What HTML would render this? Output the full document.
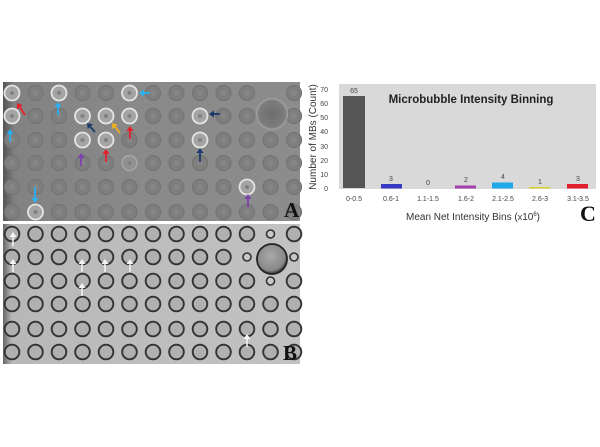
<!DOCTYPE html>
<html><head><meta charset="utf-8"><style>
html,body{margin:0;padding:0;background:#fff;width:600px;height:447px;overflow:hidden}
svg{display:block}
text{font-family:"Liberation Sans",sans-serif}
</style></head><body>
<svg id="s" width="600" height="447" viewBox="0 0 600 447" xmlns="http://www.w3.org/2000/svg">
<defs>
<linearGradient id="ga" x1="0" x2="1" y1="0" y2="0">
<stop offset="0" stop-color="#555"/><stop offset="0.04" stop-color="#828282"/><stop offset="0.5" stop-color="#8a8a8a"/><stop offset="1" stop-color="#8c8c8c"/></linearGradient>
<linearGradient id="gb" x1="0" x2="1" y1="0" y2="0">
<stop offset="0" stop-color="#666"/><stop offset="0.03" stop-color="#b8b8b8"/><stop offset="1" stop-color="#c2c2c2"/></linearGradient>
<radialGradient id="big" cx="0.5" cy="0.5" r="0.5"><stop offset="0" stop-color="#6e6e6e"/><stop offset="0.85" stop-color="#7c7c7c"/><stop offset="1" stop-color="#9a9a9a"/></radialGradient>
<radialGradient id="bigb" cx="0.45" cy="0.4" r="0.6"><stop offset="0" stop-color="#aaa"/><stop offset="0.8" stop-color="#888"/><stop offset="1" stop-color="#333"/></radialGradient>
</defs>
<rect x="3" y="82" width="297" height="139" fill="url(#ga)"/>
<rect x="3" y="224" width="297" height="140" fill="url(#gb)"/>
<g id="ca"></g><g id="cb"></g><g id="ar"></g>
<text x="284" y="217" font-weight="bold" font-size="21" fill="#111" style="font-family:'Liberation Serif',serif">A</text>
<text x="283" y="360" font-weight="bold" font-size="21" fill="#111" style="font-family:'Liberation Serif',serif">B</text>
<rect x="339" y="84" width="257" height="105" fill="#d9d9d9"/>
<g font-size="7" fill="#444" text-anchor="end">
<text x="328" y="191">0</text><text x="328" y="177">10</text><text x="328" y="163">20</text><text x="328" y="149">30</text><text x="328" y="134">40</text><text x="328" y="120">50</text><text x="328" y="106">60</text><text x="328" y="92">70</text>
</g>
<text transform="translate(316,137) rotate(-90)" font-size="10" fill="#333" text-anchor="middle">Number of MBs (Count)</text>
<text x="471" y="103" font-size="11.5" font-weight="bold" fill="#222" text-anchor="middle">Microbubble Intensity Binning</text>
<rect x="343" y="96" width="22" height="92" fill="#555"/>
<rect x="381" y="184" width="21" height="4.5" fill="#3838c0"/>
<rect x="455" y="185.5" width="21" height="3" fill="#a040a8"/>
<rect x="492" y="182.5" width="21" height="6" fill="#20a8e8"/>
<rect x="529" y="187" width="21" height="1.5" fill="#d8d030"/>
<rect x="567" y="184" width="21" height="4.5" fill="#e02030"/>
<g font-size="7" fill="#444" text-anchor="middle">
<text x="354" y="93">65</text><text x="391" y="181">3</text><text x="428" y="185">0</text><text x="466" y="182">2</text><text x="503" y="179">4</text><text x="540" y="184">1</text><text x="578" y="181">3</text>
<text x="354" y="201">0-0.5</text><text x="391" y="201">0.6-1</text><text x="428" y="201">1.1-1.5</text><text x="466" y="201">1.6-2</text><text x="503" y="201">2.1-2.5</text><text x="540" y="201">2.6-3</text><text x="578" y="201">3.1-3.5</text>
</g>
<text x="473" y="220" font-size="10" fill="#333" text-anchor="middle">Mean Net Intensity Bins (<tspan font-size="9">x</tspan>10<tspan font-size="6" dy="-4">6</tspan><tspan dy="4">)</tspan></text>
<text x="580" y="221" font-weight="bold" font-size="22" fill="#111" style="font-family:'Liberation Serif',serif">C</text>
</svg>
<script>
var NS="http://www.w3.org/2000/svg";
function el(p,t,a){var e=document.createElementNS(NS,t);for(var k in a)e.setAttribute(k,a[k]);p.appendChild(e);return e;}
var ca=document.getElementById('ca'),cb=document.getElementById('cb'),ar=document.getElementById('ar');
var ya=[93,116,140,163,187,212],yb=[234,257,281,304,329,352];
var bright={"0,0":1,"2,0":1,"5,0":1,"0,1":1,"3,1":1,"4,1":1,"5,1":1,"8,1":1,"3,2":1,"4,2":1,"8,2":1,"10,4":1,"1,5":1,"5,3":0.5};
for(var r=0;r<6;r++)for(var c=0;c<13;c++){
 var x=12+23.5*c;
 if(!(c==11&&r<2)){
  var b=bright[c+","+r];
  if(b){el(ca,'circle',{cx:x,cy:ya[r],r:7.5,fill:b==1?'#a4a4a4':'#909090',stroke:b==1?'#e4e4e4':'#acacac','stroke-width':b==1?1.8:1.2});
   el(ca,'circle',{cx:x,cy:ya[r],r:2,fill:'#808080'});}
  else{el(ca,'circle',{cx:x,cy:ya[r],r:7.5,fill:'#7e7e7e',stroke:'#747474','stroke-width':1.2});
   el(ca,'circle',{cx:x,cy:ya[r],r:3,fill:'#868686'});}
 }
 if(c==11&&r==1){}
 else if(c==11&&(r==0||r==2)){el(cb,'circle',{cx:x,cy:yb[r],r:4,fill:'#c8c8c8',stroke:'#333','stroke-width':1.6});}
 else if(c==10&&r==1){el(cb,'circle',{cx:x,cy:yb[r],r:4,fill:'#c8c8c8',stroke:'#333','stroke-width':1.6});}
 else if(c==12&&r==1){el(cb,'circle',{cx:294,cy:yb[r],r:4,fill:'#c8c8c8',stroke:'#333','stroke-width':1.6});}
 else {el(cb,'circle',{cx:x,cy:yb[r],r:7.3,fill:'#b0b0b0',stroke:'#333','stroke-width':1.9});}
}
el(ca,'circle',{cx:272,cy:114,r:15.5,fill:'url(#big)',stroke:'#a0a0a0','stroke-width':1});
el(cb,'circle',{cx:272,cy:259,r:15,fill:'url(#bigb)',stroke:'#222','stroke-width':1.8});
function arrow(x1,y1,x2,y2,col,w){
 var dx=x2-x1,dy=y2-y1,L=Math.sqrt(dx*dx+dy*dy),ux=dx/L,uy=dy/L,h=5,hw=3.5;
 var bx=x2-ux*h,by=y2-uy*h;
 el(ar,'line',{x1:x1,y1:y1,x2:bx,y2:by,stroke:col,'stroke-width':w||1.8});
 el(ar,'polygon',{points:x2+","+y2+" "+(bx-uy*hw)+","+(by+ux*hw)+" "+(bx+uy*hw)+","+(by-ux*hw),fill:col});
}
var R='#e8202a',C='#28b0f0',N='#1a3a6a',P='#8040b0',O='#f0b020';
arrow(25,115,17,103,R);arrow(58,115,58,102,C);arrow(150,93,139,93,C);arrow(10,142,10,129,C);
arrow(95,132,87,123,N);arrow(120,133,112,123,O);arrow(130,139,130,126,R);arrow(220,114,209,114,N);
arrow(81,166,81,153,P);arrow(106,162,106,149,R);arrow(200,162,200,148,N);arrow(35,187,35,203,C);arrow(248,207,248,194,P);
var W='#f4f4f4';
arrow(13,246,13,232,W,1.5);arrow(13,272,13,259,W,1.5);arrow(82,272,82,259,W,1.5);arrow(105,272,105,259,W,1.5);arrow(130,272,130,259,W,1.5);arrow(82,296,82,283,W,1.5);arrow(247,347,247,334,W,1.5);
</script>
</body></html>
